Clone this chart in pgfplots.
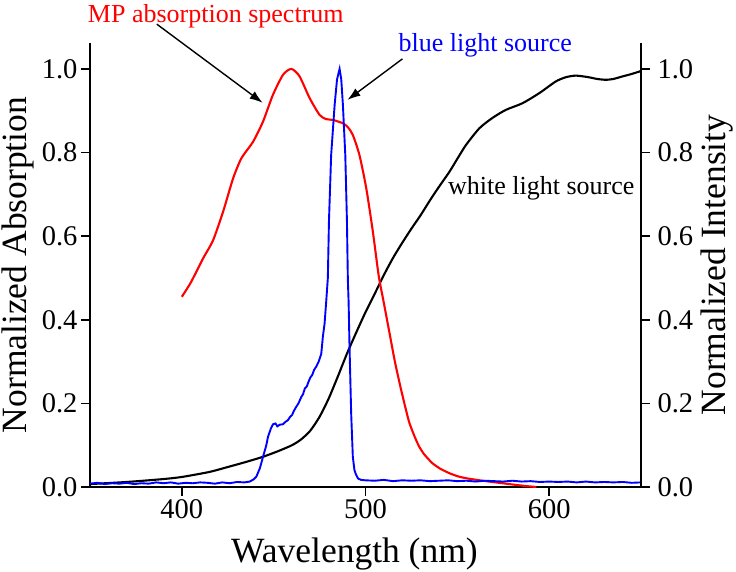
\documentclass[border=0pt]{standalone}
\usepackage{fontspec}
\setmainfont{Liberation Serif}
\usepackage{pgfplots}
\pgfplotsset{compat=1.18}
\usetikzlibrary{arrows.meta}
\begin{document}
\begin{tikzpicture}
\pgfplotsset{
  base/.style={
    scale only axis, width=551pt, height=444pt,
    xmin=350, xmax=650, ymin=0, ymax=1.062,
    tick align=outside, major tick length=9pt,
    axis line style={line width=1.7pt},
    every tick/.style={line width=1.7pt, black},
    ytick={0,0.2,0.4,0.6,0.8,1.0},
    yticklabel style={/pgf/number format/fixed, /pgf/number format/fixed zerofill, /pgf/number format/precision=1},
    /pgf/number format/assume math mode=true,
    tick label style={font=\fontsize{28.5}{28.5}\selectfont},
    label style={font=\fontsize{35.5}{35.5}\selectfont},
  }
}
\begin{axis}[base,
  axis x line*=bottom, axis y line*=left,
  xtick={400,500,600},
  xticklabel style={/pgf/number format/fixed, /pgf/number format/1000 sep={}},
  xlabel={Wavelength (nm)},
  ylabel={Normalized Absorption},
  xlabel style={at={(axis description cs:0.48,-0.169)}, anchor=base},
  ylabel style={at={(axis description cs:-0.130,0.5)}, anchor=center, rotate=0},
  clip=false]
\coordinate (O) at (rel axis cs:0,0);
% white light source
\addplot[black, line width=2.1pt, smooth, tension=0.4] coordinates {
(350,0.007) (370,0.012) (390,0.019) (400,0.024) (415,0.036) (426,0.049) (435,0.060)
(444,0.072) (452,0.085) (460,0.100) (465,0.114) (470,0.135) (475,0.168) (480,0.212)
(485,0.265) (490,0.320) (495,0.370) (500,0.418) (505,0.462)
(510,0.507) (515,0.548) (520,0.584) (525,0.618) (530,0.650) (535,0.685)
(540,0.718) (545.7,0.754) (550,0.785) (554.7,0.818) (562,0.858) (569.2,0.883)
(576.4,0.902) (585.5,0.918) (594.6,0.942) (603.6,0.970) (609,0.980) (614.5,0.984)
(621.7,0.980) (626,0.976) (630.8,0.974) (635,0.976) (639.9,0.982) (645,0.988) (650,0.995)};
% MP absorption
\addplot[red, line width=2.1pt, smooth, tension=0.4] coordinates {
(400,0.455) (405,0.490) (411.6,0.547) (417,0.590) (422.5,0.659) (427.9,0.738)
(432.4,0.786) (438.8,0.826) (444.2,0.874) (449.6,0.938) (455.1,0.986) (459.6,1.000)
(464,0.983) (469.6,0.930) (475,0.890) (478.5,0.880) (482.2,0.878) (487.7,0.870)
(490.5,0.860) (493.1,0.842) (496.7,0.794) (500.4,0.715) (504,0.611) (507.2,0.505)
(510,0.440) (513,0.370) (516,0.300) (519,0.240) (522,0.185) (524,0.152) (527,0.118)
(529.3,0.096) (532,0.078) (536.4,0.057) (541,0.043) (545.7,0.033) (550,0.026)
(554.7,0.021) (563.8,0.015) (572.8,0.010) (581.9,0.005) (588,0.002) (593,0.000)};
% blue light source
\addplot[blue, line width=1.9pt] coordinates {
(350,0.008) (354,0.010) (358,0.007) (362,0.009) (366,0.008) (370,0.010) (374,0.007)
(378,0.009) (382,0.008) (386,0.011) (390,0.009) (394,0.011) (398,0.008) (402,0.010)
(406,0.009) (410,0.011) (414,0.010) (418,0.008) (422,0.011) (426,0.009) (430,0.012)
(434,0.011) (437,0.013) (439,0.018) (440.6,0.025) (442.5,0.045) (444.2,0.072)
(446,0.100) (446.9,0.120) (448.5,0.140) (449.6,0.150) (451,0.152) (452,0.145)
(453.3,0.149) (455,0.150) (456.5,0.156) (457.8,0.160) (459,0.168) (460,0.172)
(461,0.182) (462.3,0.192) (463.5,0.200) (465,0.215) (466,0.222) (467,0.236)
(468,0.240) (469,0.252) (470,0.262) (471,0.268) (472,0.280) (473.2,0.288)
(474.5,0.300) (475.9,0.318) (476.8,0.360) (477.7,0.390) (478.6,0.443) (479.5,0.500)
(480.1,0.635) (481.3,0.794) (483.2,0.914) (484.5,0.975) (485.9,1.000) (486.8,0.975)
(487.7,0.914) (489,0.794) (489.9,0.635) (490.4,0.495) (490.8,0.443) (491.3,0.336)
(492.2,0.176) (493.1,0.072) (494,0.040) (494.9,0.029) (496,0.020) (497.6,0.017)
(500,0.016) (505,0.015) (510,0.017) (515,0.014) (520,0.016) (525,0.015) (530,0.016)
(535,0.014) (540,0.015) (545,0.016) (550,0.014) (555,0.015) (560,0.013) (565,0.015)
(570,0.014) (575,0.013) (580,0.015) (585,0.013) (590,0.014) (595,0.012) (600,0.013)
(605,0.012) (610,0.013) (615,0.011) (620,0.013) (625,0.011) (630,0.012) (635,0.011)
(640,0.012) (645,0.010) (650,0.011)};
% annotations
\draw[black, line width=1.4pt, -{Latex[length=13pt,width=9pt]}] (axis cs:386.4,1.107) -- (axis cs:444,0.919);
\draw[black, line width=1.4pt, -{Latex[length=13pt,width=9pt]}] (axis cs:520.1,1.024) -- (axis cs:490.2,0.926);
\node[red, anchor=base, font=\fontsize{26}{26}\selectfont] at (axis cs:418.5,1.112) {MP absorption spectrum};
\node[blue, font=\fontsize{26}{26}\selectfont] at (axis cs:565.2,1.057) {blue light source};
\node[black, font=\fontsize{26}{26}\selectfont] at (axis cs:595.7,0.715) {white light source};
\end{axis}
\begin{axis}[base,
  axis y line*=right, hide x axis,
  yticklabel style={xshift=4pt},
  ylabel={Normalized Intensity},
  ylabel style={at={(axis description cs:1.138,0.5)}, anchor=center, rotate=0}]
\end{axis}
\pgfresetboundingbox
\path[use as bounding box] (O) ++(-90pt,-85pt) rectangle ++(736pt,572pt);
\end{tikzpicture}
\end{document}
